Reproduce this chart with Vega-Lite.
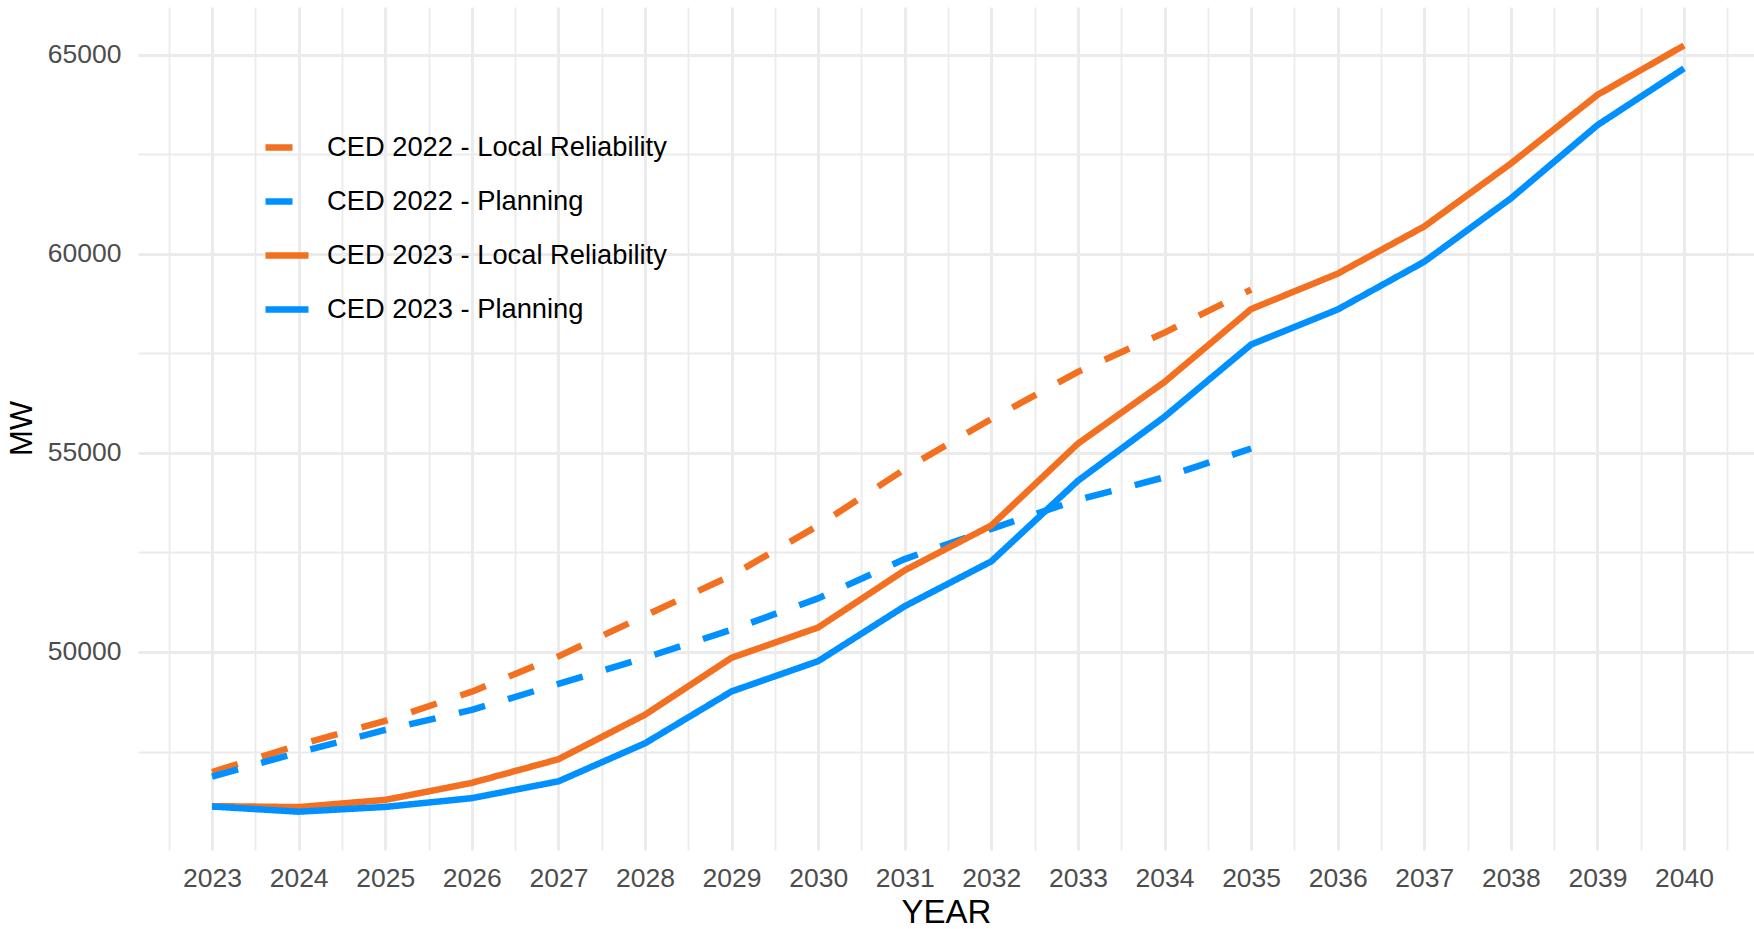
{
  "$schema": "https://vega.github.io/schema/vega-lite/v6.json",
  "width": 1616,
  "height": 843,
  "autosize": {"type": "none"},
  "padding": {"left": 138, "top": 7, "right": 0, "bottom": 79},
  "background": "white",
  "config": {"view": {"stroke": null}, "font": "Liberation Sans"},
  "data": {"values": [
    {"year": 2023, "value": 46985, "series": "CED 2022 - Local Reliability"},
    {"year": 2024, "value": 47665, "series": "CED 2022 - Local Reliability"},
    {"year": 2025, "value": 48270, "series": "CED 2022 - Local Reliability"},
    {"year": 2026, "value": 49004, "series": "CED 2022 - Local Reliability"},
    {"year": 2027, "value": 49891, "series": "CED 2022 - Local Reliability"},
    {"year": 2028, "value": 50913, "series": "CED 2022 - Local Reliability"},
    {"year": 2029, "value": 51920, "series": "CED 2022 - Local Reliability"},
    {"year": 2030, "value": 53175, "series": "CED 2022 - Local Reliability"},
    {"year": 2031, "value": 54590, "series": "CED 2022 - Local Reliability"},
    {"year": 2032, "value": 55851, "series": "CED 2022 - Local Reliability"},
    {"year": 2033, "value": 57034, "series": "CED 2022 - Local Reliability"},
    {"year": 2034, "value": 58019, "series": "CED 2022 - Local Reliability"},
    {"year": 2035, "value": 59100, "series": "CED 2022 - Local Reliability"},
    {"year": 2023, "value": 46872, "series": "CED 2022 - Planning"},
    {"year": 2024, "value": 47476, "series": "CED 2022 - Planning"},
    {"year": 2025, "value": 48042, "series": "CED 2022 - Planning"},
    {"year": 2026, "value": 48545, "series": "CED 2022 - Planning"},
    {"year": 2027, "value": 49200, "series": "CED 2022 - Planning"},
    {"year": 2028, "value": 49854, "series": "CED 2022 - Planning"},
    {"year": 2029, "value": 50559, "series": "CED 2022 - Planning"},
    {"year": 2030, "value": 51347, "series": "CED 2022 - Planning"},
    {"year": 2031, "value": 52333, "series": "CED 2022 - Planning"},
    {"year": 2032, "value": 53093, "series": "CED 2022 - Planning"},
    {"year": 2033, "value": 53820, "series": "CED 2022 - Planning"},
    {"year": 2034, "value": 54387, "series": "CED 2022 - Planning"},
    {"year": 2035, "value": 55110, "series": "CED 2022 - Planning"},
    {"year": 2023, "value": 46130, "series": "CED 2023 - Local Reliability"},
    {"year": 2024, "value": 46105, "series": "CED 2023 - Local Reliability"},
    {"year": 2025, "value": 46286, "series": "CED 2023 - Local Reliability"},
    {"year": 2026, "value": 46714, "series": "CED 2023 - Local Reliability"},
    {"year": 2027, "value": 47307, "series": "CED 2023 - Local Reliability"},
    {"year": 2028, "value": 48424, "series": "CED 2023 - Local Reliability"},
    {"year": 2029, "value": 49855, "series": "CED 2023 - Local Reliability"},
    {"year": 2030, "value": 50615, "series": "CED 2023 - Local Reliability"},
    {"year": 2031, "value": 52051, "series": "CED 2023 - Local Reliability"},
    {"year": 2032, "value": 53177, "series": "CED 2023 - Local Reliability"},
    {"year": 2033, "value": 55232, "series": "CED 2023 - Local Reliability"},
    {"year": 2034, "value": 56780, "series": "CED 2023 - Local Reliability"},
    {"year": 2035, "value": 58610, "series": "CED 2023 - Local Reliability"},
    {"year": 2036, "value": 59500, "series": "CED 2023 - Local Reliability"},
    {"year": 2037, "value": 60685, "series": "CED 2023 - Local Reliability"},
    {"year": 2038, "value": 62265, "series": "CED 2023 - Local Reliability"},
    {"year": 2039, "value": 63990, "series": "CED 2023 - Local Reliability"},
    {"year": 2040, "value": 65230, "series": "CED 2023 - Local Reliability"},
    {"year": 2023, "value": 46120, "series": "CED 2023 - Planning"},
    {"year": 2024, "value": 45990, "series": "CED 2023 - Planning"},
    {"year": 2025, "value": 46110, "series": "CED 2023 - Planning"},
    {"year": 2026, "value": 46330, "series": "CED 2023 - Planning"},
    {"year": 2027, "value": 46752, "series": "CED 2023 - Planning"},
    {"year": 2028, "value": 47707, "series": "CED 2023 - Planning"},
    {"year": 2029, "value": 49010, "series": "CED 2023 - Planning"},
    {"year": 2030, "value": 49770, "series": "CED 2023 - Planning"},
    {"year": 2031, "value": 51150, "series": "CED 2023 - Planning"},
    {"year": 2032, "value": 52276, "series": "CED 2023 - Planning"},
    {"year": 2033, "value": 54300, "series": "CED 2023 - Planning"},
    {"year": 2034, "value": 55907, "series": "CED 2023 - Planning"},
    {"year": 2035, "value": 57720, "series": "CED 2023 - Planning"},
    {"year": 2036, "value": 58600, "series": "CED 2023 - Planning"},
    {"year": 2037, "value": 59800, "series": "CED 2023 - Planning"},
    {"year": 2038, "value": 61390, "series": "CED 2023 - Planning"},
    {"year": 2039, "value": 63230, "series": "CED 2023 - Planning"},
    {"year": 2040, "value": 64655, "series": "CED 2023 - Planning"}
  ]},
  "mark": {"type": "line", "strokeWidth": 6.5, "strokeJoin": "round", "strokeCap": "butt", "clip": true},
  "encoding": {
    "x": {
      "field": "year", "type": "quantitative",
      "scale": {"domain": [2022.145, 2040.808], "nice": false, "zero": false},
      "axis": {
        "title": "YEAR",
        "values": [2022.5, 2023, 2023.5, 2024, 2024.5, 2025, 2025.5, 2026, 2026.5, 2027, 2027.5, 2028, 2028.5, 2029, 2029.5, 2030, 2030.5, 2031, 2031.5, 2032, 2032.5, 2033, 2033.5, 2034, 2034.5, 2035, 2035.5, 2036, 2036.5, 2037, 2037.5, 2038, 2038.5, 2039, 2039.5, 2040, 2040.5],
        "labelExpr": "datum.value % 1 === 0 ? format(datum.value, 'd') : ''",
        "grid": true,
        "gridColor": "#EBEBEB",
        "gridWidth": {"condition": {"test": "datum.value % 1 !== 0", "value": 1.8}, "value": 3},
        "domain": false, "ticks": false, "tickSize": 0,
        "labelPadding": 15, "labelFontSize": 26.5, "labelColor": "#4D4D4D",
        "labelOverlap": false, "labelFlush": false, "labelFont": "Liberation Sans",
        "titleFontSize": 33, "titleFontWeight": "normal", "titleColor": "black", "titleFont": "Liberation Sans",
        "titleBaseline": "middle", "titleY": 62
      }
    },
    "y": {
      "field": "value", "type": "quantitative",
      "scale": {"domain": [45028, 66196], "nice": false, "zero": false},
      "axis": {
        "title": "MW",
        "values": [47500, 50000, 52500, 55000, 57500, 60000, 62500, 65000],
        "labelExpr": "datum.value % 5000 === 0 ? format(datum.value, 'd') : ''",
        "grid": true,
        "gridColor": "#EBEBEB",
        "gridWidth": {"condition": {"test": "datum.value % 5000 !== 0", "value": 1.8}, "value": 3},
        "domain": false, "ticks": false, "tickSize": 0,
        "labelPadding": 17, "labelFontSize": 26.5, "labelColor": "#4D4D4D",
        "labelOverlap": false, "labelFlush": false, "labelFont": "Liberation Sans",
        "titleFontSize": 31, "titleFontWeight": "normal", "titleColor": "black", "titleFont": "Liberation Sans",
        "titleAngle": -90, "titleBaseline": "middle", "titleX": -116, "titleY": 421
      }
    },
    "color": {
      "field": "series", "type": "nominal",
      "scale": {
        "domain": ["CED 2022 - Local Reliability", "CED 2022 - Planning", "CED 2023 - Local Reliability", "CED 2023 - Planning"],
        "range": ["#F37021", "#0090FF", "#F37021", "#0090FF"]
      },
      "legend": {
        "title": null, "orient": "none", "legendX": 124, "legendY": 115.5,
        "symbolType": "stroke", "symbolSize": 1849, "symbolStrokeWidth": 6.5,
        "labelFontSize": 27.3, "labelColor": "black", "labelFont": "Liberation Sans",
        "labelOffset": 15, "rowPadding": 15, "padding": 0, "labelLimit": 0
      }
    },
    "strokeDash": {
      "field": "series", "type": "nominal",
      "scale": {
        "domain": ["CED 2022 - Local Reliability", "CED 2022 - Planning", "CED 2023 - Local Reliability", "CED 2023 - Planning"],
        "range": [[27, 25], [27, 24], [1, 0], [1, 0]]
      },
      "legend": {
        "title": null, "orient": "none", "legendX": 124, "legendY": 115.5,
        "symbolType": "stroke", "symbolSize": 1849, "symbolStrokeWidth": 6.5,
        "labelFontSize": 27.3, "labelColor": "black", "labelFont": "Liberation Sans",
        "labelOffset": 15, "rowPadding": 15, "padding": 0, "labelLimit": 0
      }
    }
  }
}
